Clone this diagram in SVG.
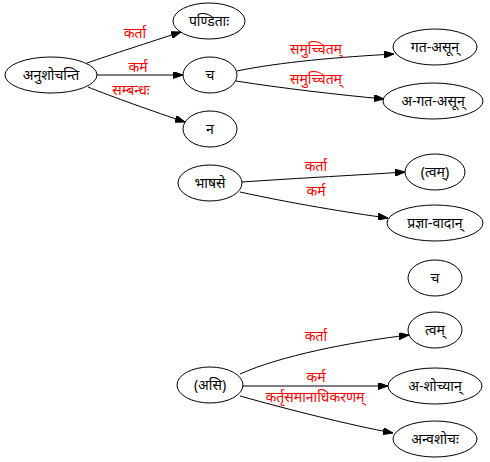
<svg xmlns="http://www.w3.org/2000/svg" width="490" height="462" viewBox="0 0 490 462">
<style>
.n ellipse{fill:none;stroke:#000;stroke-width:1}
.n text{font-family:"Noto Sans","DejaVu Sans",sans-serif;font-size:14px;fill:#000;text-anchor:middle}
.e path{fill:none;stroke:#000;stroke-width:1;marker-end:url(#ah)}
.e text{font-family:"Noto Sans","DejaVu Sans",sans-serif;font-size:14px;fill:#ff0000;text-anchor:middle}
</style>
<defs>
<marker id="ah" viewBox="0 0 10 7" refX="10" refY="3.5" markerWidth="10" markerHeight="7" markerUnits="userSpaceOnUse" orient="auto">
<path d="M0,0 L10,3.5 L0,7 Z" fill="#000" stroke="#000"/>
</marker>
</defs>
<rect width="490" height="462" fill="#fff"/>
<g id="edges" class="e">
<path d="M87,63 C110,55 150,42 181,32"/>
<text x="135" y="38">कर्ता</text>
<path d="M97,75 L183,75"/>
<text x="138" y="72">कर्म</text>
<path d="M88,87 C110,96 155,112 185,122"/>
<text x="131" y="95">सम्बन्धः</text>
<path d="M237,71 C280,62 340,57 394,54"/>
<text x="316" y="54">समुच्चितम्</text>
<path d="M236,81 C280,88 340,95 384,99"/>
<text x="316" y="84">समुच्चितम्</text>
<path d="M242,182 C300,178 360,175 405,172"/>
<text x="316" y="171">कर्ता</text>
<path d="M240,192 C290,203 350,213 388,218"/>
<text x="316" y="196">कर्म</text>
<path d="M240,374 C280,356 350,342 409,335"/>
<text x="316" y="341">कर्ता</text>
<path d="M243,386 L388,386"/>
<text x="316" y="382">कर्म</text>
<path d="M240,396 C290,410 350,425 393,433"/>
<text x="315" y="402">कर्तृसमानाधिकरणम्</text>
</g>
<g id="n_anushochanti" class="n"><ellipse cx="51" cy="75" rx="46" ry="18"/><text x="51" y="80">अनुशोचन्ति</text></g>
<g id="n_panditah" class="n"><ellipse cx="209" cy="21" rx="36" ry="18"/><text x="209" y="26">पण्डिताः</text></g>
<g id="n_ca1" class="n"><ellipse cx="210" cy="75" rx="27" ry="18"/><text x="210" y="80">च</text></g>
<g id="n_na" class="n"><ellipse cx="210" cy="129" rx="27" ry="18"/><text x="210" y="134">न</text></g>
<g id="n_gatasun" class="n"><ellipse cx="435" cy="47" rx="42" ry="18"/><text x="435" y="52">गत-असून्</text></g>
<g id="n_agatasun" class="n"><ellipse cx="433" cy="101" rx="50" ry="18"/><text x="433" y="106">अ-गत-असून्</text></g>
<g id="n_bhashase" class="n"><ellipse cx="210" cy="183" rx="32" ry="18"/><text x="210" y="188">भाषसे</text></g>
<g id="n_tvam1" class="n"><ellipse cx="435" cy="172" rx="30" ry="18"/><text x="435" y="177">(त्वम्)</text></g>
<g id="n_prajnavadan" class="n"><ellipse cx="435" cy="223" rx="48" ry="18"/><text x="435" y="228">प्रज्ञा-वादान्</text></g>
<g id="n_ca2" class="n"><ellipse cx="435" cy="278" rx="27" ry="18"/><text x="435" y="283">च</text></g>
<g id="n_asi" class="n"><ellipse cx="210" cy="385" rx="33" ry="18"/><text x="210" y="390">(असि)</text></g>
<g id="n_tvam2" class="n"><ellipse cx="435" cy="330" rx="27" ry="18"/><text x="435" y="335">त्वम्</text></g>
<g id="n_ashocyan" class="n"><ellipse cx="435" cy="386" rx="47" ry="18"/><text x="435" y="391">अ-शोच्यान्</text></g>
<g id="n_anvashocah" class="n"><ellipse cx="435" cy="439" rx="42" ry="18"/><text x="435" y="444">अन्वशोचः</text></g>
</svg>
